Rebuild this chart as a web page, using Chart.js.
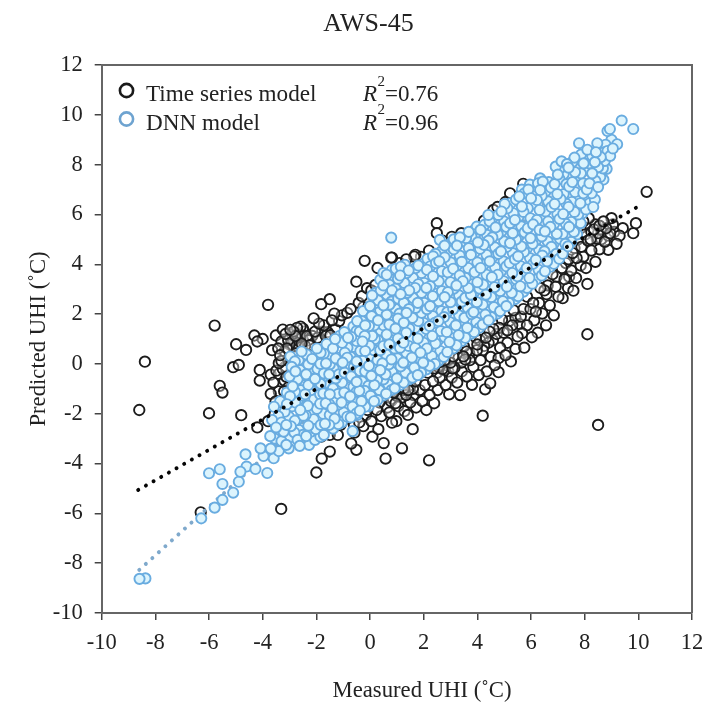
<!DOCTYPE html>
<html><head><meta charset="utf-8">
<style>html,body{margin:0;padding:0;background:#fff}canvas{display:block;filter:blur(0.6px)}</style>
<script src="https://cdn.jsdelivr.net/npm/chart.js@4"></script>
</head><body><div style="width:723px;height:703px"><canvas id="c" width="723" height="703"></canvas></div>
<script>
const chartTitle = "AWS-45";
const xAxisLabel = "Measured UHI (˚C)";
const yAxisLabel = "Predicted UHI (˚C)";
const seriesNames = ["Time series model", "DNN model"];
const r2Labels = ["0.76", "0.96"];
const timeTrend = [[-8.64,-5.06],[10.03,6.34]];
const dnnTrend = [[-8.6,-8.27],[9.3,9.2]];
const timeOutliers = [[-8.39,0.09],[-8.6,-1.85],[-6,-1.98],[-4.8,-2.06],[-5.6,-0.88],[-5.5,-1.15],[-5.1,-0.13],[-4.89,-0.04],[-5.79,1.54],[-3.8,2.37],[-4.99,0.79],[-4.31,1.14],[-4.0,1.0],[-4.62,0.56],[-4.2,0.9],[-4.11,-0.24],[-4.11,-0.67],[-3.7,-0.43],[-3.49,-0.27],[-3.4,0.03],[-3.19,-0.67],[-3.4,-1.1],[-3.52,-1.51],[-4.2,-2.55],[-6.31,-5.96],[-3.31,-5.82],[8.5,-2.45],[8.1,1.19],[10.31,6.91],[4.2,-2.08],[2.2,-3.87],[-2,-4.36],[-1.8,-3.8],[-1.5,-3.52],[0.58,-3.8],[1.19,-3.39],[-0.51,-3.45],[0.51,-3.18]];
const timeUpper = [[-3.51,1.14],[-2.97,1.37],[-2.59,1.5],[-2.1,1.83],[-1.82,2.4],[-1.5,2.6],[-0.51,3.3],[-0.2,4.14],[-0.11,3.04],[0.2,3.17],[0.79,4.27],[1.65,4.31],[1.9,4.3],[2.49,5.65],[2.49,5.25],[1.69,4.38],[0.82,4.27],[5.22,6.85],[4.6,6.18],[5.71,7.23],[-3.3,0.9],[-3.15,1.2],[-3.25,1.38],[-2.85,0.95],[-2.9,1.18],[-2.72,1.45],[-2.62,1.15],[-2.45,1.3],[-2.55,0.82],[-2.3,0.95],[-2.15,1.12],[-1.95,1.05],[-1.78,1.3],[-1.72,1.55],[-1.58,1.28],[-1.42,1.75],[-1.3,1.4],[-1.15,1.72],[-1.05,1.95],[-1.33,2.02],[-0.85,2.05],[-0.72,2.2],[-0.42,2.45],[-0.3,2.72],[-0.25,2.28],[0.05,2.95],[0.28,3.85],[0.5,3.4],[-3.65,0.55],[-3.35,0.35],[-3.1,0.62],[-2.78,0.42],[-2.95,-0.35],[-3.25,-0.2],[-3.05,-0.95],[-3.3,-1.85],[-3.15,-1.4],[-3.55,-2.0],[-3.8,-2.3],[-3.7,-1.2],[-3.6,-0.75],[1.1,4.05],[1.35,4.2],[2.2,4.55],[2.7,4.95],[3.05,5.1],[3.4,5.25],[3.75,5.3],[4.25,5.75],[4.75,6.3],[5.05,6.5]];
const timeClumps = [[-3.05,0.95],[-3.0,0.78],[-2.88,0.7],[-2.75,0.85],[-2.68,0.68],[-2.6,1.02],[-2.52,0.6],[-2.42,0.72],[-2.35,1.12],[-2.25,0.75],[-3.18,0.5],[-3.42,0.62],[-3.3,0.12],[-3.15,-0.1],[-3.05,0.2],[-2.85,1.3],[-2.78,1.12],[-2.5,1.42],[-2.05,1.3],[-1.88,0.95],[-1.65,1.12],[-1.48,1.15],[-1.9,1.62],[-3.2,-1.1],[-3.28,-1.55],[-3.12,-0.52],[-3.4,-0.4],[1.05,-1.1],[1.12,-1.0],[1.18,-1.2],[1.28,-0.98],[1.35,-1.25],[1.02,-1.3],[0.88,-1.15],[0.78,-1.5],[0.95,-1.58],[1.42,-1.05],[1.5,-0.85],[1.6,-1.0],[2.45,0.05],[2.55,-0.12],[2.62,0.08],[2.7,-0.2],[2.78,0.15],[2.85,-0.05],[2.92,-0.3],[3.0,0.05],[3.08,-0.18],[2.5,-0.35],[2.38,-0.18],[3.3,0.25],[3.4,0.05],[3.48,0.3],[3.6,0.5],[3.72,0.15],[4.0,0.78],[4.1,0.95],[4.2,0.55],[4.32,1.05],[4.42,0.85],[4.6,1.4],[4.72,1.2],[4.82,1.45],[5.18,1.72],[5.12,1.35],[5.42,1.85],[5.58,1.6],[5.72,2.2],[6.08,2.45],[6.18,2.1],[6.5,2.95],[6.62,3.15],[6.95,3.5],[7.15,3.85],[7.42,3.5],[7.4,4.2],[7.7,4.25],[7.62,4.65],[7.88,4.7],[8.02,5.2],[8.22,5.0],[8.35,5.4],[8.5,5.25],[8.62,5.0],[8.55,5.55],[8.8,5.45],[8.88,5.15],[9.1,5.3]];
const timeLower = [[-1.82,-2.92],[-1.5,-2.85],[-1.2,-2.85],[-0.7,-3.2],[-0.58,-2.76],[0.09,-2.92],[0.31,-2.62],[1.59,-2.62],[0.82,-2.36],[1.41,-2.05],[2.1,-1.85],[2.39,-1.58],[-1.1,-2.45],[-0.85,-2.2],[-0.4,-2.35],[-0.15,-2.05],[-0.25,-2.5],[0.05,-2.3],[0.25,-1.85],[0.42,-2.1],[0.65,-1.75],[0.72,-1.95],[0.98,-2.3],[1.05,-1.7],[1.18,-1.35],[1.28,-1.9],[1.5,-1.55],[1.62,-1.25],[1.72,-1.75],[1.85,-1.05],[1.95,-1.5],[2.05,-0.85],[2.22,-1.25],[2.35,-0.7],[2.52,-1.05],[2.6,-0.55],[2.75,-0.25],[2.82,-0.85],[2.95,-1.22],[3.05,-0.55],[3.15,-0.15],[3.36,-1.25],[3.25,-0.75],[3.42,-0.3],[3.55,0.18],[3.61,-0.51],[3.7,0.42],[3.8,-0.84],[3.85,-0.12],[3.98,0.55],[4.05,-0.45],[4.12,0.15],[4.29,-1.02],[4.25,0.72],[4.35,-0.3],[4.48,-0.78],[4.5,0.28],[4.58,0.95],[4.65,-0.05],[4.79,0.23],[4.79,-0.33],[4.85,0.65],[4.98,1.25],[5.05,0.35],[5.12,0.85],[5.25,0.1],[5.3,1.55],[5.42,0.6],[5.5,1.1],[5.67,1.23],[5.62,1.9],[5.75,0.65],[5.85,1.55],[6.03,1.07],[5.98,2.2],[6.12,1.75],[6.25,1.25],[6.3,2.45],[6.42,2.02],[6.56,1.55],[6.58,2.8],[6.7,2.35],[6.85,1.95],[6.92,3.1],[7.02,2.7],[7.18,2.64],[7.25,3.4],[7.38,3.05],[7.58,2.94],[7.5,3.75],[7.68,3.45],[7.85,3.95],[8.1,3.21],[7.95,4.3],[8.05,3.85],[8.25,4.55],[8.12,4.95],[8.4,4.1],[8.45,5.02],[8.55,4.6],[8.65,5.3],[8.75,4.9],[8.88,4.58],[8.95,5.25],[9.19,4.82],[9.05,5.6],[9,5.85],[8.4,5.6],[7.95,5.72],[8.25,5.3],[7.75,5.0],[7.85,5.45],[9.42,5.45],[9.81,5.25],[9.91,5.65],[9.3,5.15],[8.7,5.72],[8.15,5.85],[7.55,4.45],[7.3,4.05],[6.8,3.6],[6.35,3.05],[5.85,2.7],[5.35,2.15],[4.92,1.78],[4.45,1.3],[3.95,1.05],[3.5,0.7],[3.1,0.3],[2.6,-0.05],[2.15,-0.35],[1.7,-0.7],[1.25,-1.05],[0.85,-1.4],[0.35,-1.55],[-0.1,-1.85],[-0.6,-2.45],[-1.35,-2.55]];
const dnnEdge = [[9.38,9.77],[9.81,9.43],[8.94,9.43],[8.85,9.35],[7.79,8.86],[8.1,8.6],[8.47,8.86],[9.21,8.82],[9.0,9.0],[8.82,7.83],[7.14,8.13],[6.34,7.45],[5.96,7.2],[4.41,5.98],[3.98,5.51],[0.79,5.07],[8.32,6.3],[7.95,6.85],[-8.59,-8.63],[-8.37,-8.61],[-6.29,-6.2],[-5.79,-5.77],[-5.5,-5.46],[-5.1,-5.17],[-5.5,-4.82],[-6,-4.39],[-5.6,-4.23],[-4.89,-4.73],[-4.83,-4.33],[-4.6,-4.12],[-4.27,-4.22],[-4.64,-3.63],[-3.83,-4.38],[-4.08,-3.39],[-3.7,-3.4],[-3.97,-3.7],[-3.59,-3.79],[-3.4,-3.5],[-3.03,-3.39],[-2.62,-3.29],[-2.27,-3.25],[-0.65,-2.7],[-0.48,-2.05]];
const dnnLeft = [[-3.55,-3.0],[-3.5,-2.55],[-3.42,-2.1],[-3.58,-1.72],[-3.3,-3.1],[-3.22,-2.72],[-3.3,-2.35],[-3.18,-1.92],[-3.35,-1.5],[-3.1,-1.15],[-3.0,-2.95],[-2.95,-2.5],[-3.02,-2.12],[-2.9,-1.7],[-2.98,-1.3],[-2.88,-0.9],[-3.0,-0.5],[-2.92,-0.12],[-2.97,0.3],[-2.7,-3.05],[-2.65,-2.65],[-2.72,-2.25],[-2.6,-1.85],[-2.68,-1.45],[-2.58,-1.05],[-2.7,-0.62],[-2.6,-0.25],[-2.66,0.15],[-2.55,0.5],[-2.38,-2.9],[-2.3,-2.48],[-2.4,-2.05],[-2.32,-1.68],[-2.42,-1.22],[-2.3,-0.85],[-2.38,-0.42],[-2.3,-0.02],[-2.36,0.38],[-2.05,-3.05],[-2.02,-2.62],[-2.1,-2.22],[-1.98,-1.8],[-2.08,-1.42],[-1.95,-1.02],[-2.05,-0.6],[-1.96,-0.2],[-2.04,0.22],[-1.98,0.62],[-1.72,-2.85],[-1.68,-2.4],[-1.75,-2.0],[-1.65,-1.58],[-1.74,-1.18],[-1.62,-0.78],[-1.72,-0.38],[-1.64,0.02],[-1.72,0.42],[-1.62,0.8]];
const dnnMidA = [[-1.38,-2.6],[-1.32,-2.2],[-1.4,-1.78],[-1.3,-1.4],[-1.38,-0.98],[-1.28,-0.58],[-1.36,-0.18],[-1.28,0.22],[-1.38,0.62],[-1.3,1.0],[-1.05,-2.35],[-0.98,-1.95],[-1.06,-1.55],[-0.96,-1.15],[-1.04,-0.75],[-0.95,-0.35],[-1.02,0.05],[-0.94,0.45],[-1.04,0.85],[-0.96,1.28],[-0.72,-2.15],[-0.65,-1.72],[-0.74,-1.3],[-0.62,-0.92],[-0.7,-0.5],[-0.6,-0.12],[-0.72,0.28],[-0.62,0.68],[-0.7,1.08],[-0.62,1.5],[-0.38,-1.88],[-0.32,-1.5],[-0.4,-1.08],[-0.3,-0.7],[-0.38,-0.28],[-0.28,0.12],[-0.36,0.52],[-0.28,0.9],[-0.38,1.3],[-0.3,1.72],[-0.26,2.12],[-0.05,-1.7],[0.02,-1.28],[-0.06,-0.88],[0.05,-0.48],[-0.04,-0.08],[0.06,0.32],[-0.02,0.72],[0.08,1.12],[-0.04,1.52],[0.06,1.92],[0,2.32],[0.08,2.75],[0.28,-1.45],[0.35,-1.05],[0.26,-0.65],[0.38,-0.25],[0.28,0.15],[0.38,0.55],[0.3,0.95],[0.4,1.35],[0.3,1.75],[0.38,2.15],[0.3,2.55],[0.4,2.95],[0.38,3.38],[0.6,-1.2],[0.68,-0.82],[0.58,-0.42],[0.7,-0.02],[0.6,0.38],[0.72,0.78],[0.62,1.18],[0.72,1.58],[0.62,1.98],[0.72,2.38],[0.62,2.78],[0.72,3.18],[0.62,3.58],[0.92,-0.98],[1.0,-0.58],[0.92,-0.18],[1.02,0.22],[0.92,0.62],[1.04,1.02],[0.95,1.42],[1.04,1.82],[0.94,2.22],[1.05,2.62],[0.95,3.02],[1.04,3.42],[0.96,3.82]];
const dnnMidB = [[1.25,-0.75],[1.32,-0.35],[1.24,0.05],[1.35,0.45],[1.25,0.85],[1.35,1.25],[1.26,1.65],[1.36,2.05],[1.26,2.45],[1.38,2.85],[1.28,3.25],[1.36,3.65],[1.3,3.98],[1.58,-0.55],[1.65,-0.15],[1.56,0.25],[1.68,0.65],[1.58,1.05],[1.68,1.45],[1.58,1.85],[1.7,2.25],[1.6,2.65],[1.68,3.05],[1.6,3.45],[1.7,3.85],[1.9,-0.35],[1.98,0.05],[1.88,0.45],[2.0,0.85],[1.9,1.25],[2.0,1.65],[1.92,2.05],[2.02,2.45],[1.92,2.85],[2.02,3.25],[1.92,3.65],[2.02,4.05],[2.22,-0.08],[2.3,0.32],[2.2,0.72],[2.32,1.12],[2.22,1.52],[2.34,1.92],[2.24,2.32],[2.34,2.72],[2.24,3.12],[2.35,3.52],[2.25,3.92],[2.35,4.32],[2.55,0.12],[2.62,0.52],[2.52,0.92],[2.64,1.32],[2.55,1.72],[2.66,2.12],[2.56,2.52],[2.68,2.92],[2.56,3.32],[2.68,3.72],[2.58,4.12],[2.66,4.52],[2.6,4.98],[2.88,0.48],[2.96,0.88],[2.86,1.28],[2.98,1.68],[2.88,2.08],[3.0,2.48],[2.9,2.88],[3.0,3.28],[2.9,3.68],[3.0,4.08],[2.9,4.48],[3.02,4.85],[3.22,0.75],[3.3,1.15],[3.2,1.55],[3.32,1.95],[3.22,2.35],[3.32,2.75],[3.22,3.15],[3.34,3.55],[3.24,3.95],[3.34,4.35],[3.24,4.75],[3.35,5.08],[3.55,1.05],[3.62,1.45],[3.52,1.85],[3.64,2.25],[3.55,2.65],[3.66,3.05],[3.56,3.45],[3.66,3.85],[3.56,4.25],[3.68,4.65],[3.58,5.05],[3.68,5.3],[3.88,1.28],[3.96,1.68],[3.86,2.08],[3.98,2.48],[3.88,2.88],[4.0,3.28],[3.9,3.68],[4.0,4.08],[3.9,4.48],[4.02,4.88],[3.92,5.2]];
const dnnMidC = [[4.2,1.58],[4.3,1.98],[4.2,2.38],[4.32,2.78],[4.22,3.18],[4.34,3.58],[4.24,3.98],[4.34,4.38],[4.24,4.78],[4.36,5.18],[4.26,5.58],[4.52,1.88],[4.62,2.28],[4.52,2.68],[4.64,3.08],[4.54,3.48],[4.66,3.88],[4.56,4.28],[4.66,4.68],[4.56,5.08],[4.68,5.48],[4.58,5.88],[4.85,2.12],[4.95,2.52],[4.85,2.92],[4.98,3.32],[4.88,3.72],[4.98,4.12],[4.88,4.52],[5.0,4.92],[4.9,5.32],[5.0,5.72],[4.9,6.12],[5.02,6.42],[5.18,2.45],[5.28,2.85],[5.18,3.25],[5.3,3.65],[5.2,4.05],[5.32,4.45],[5.22,4.85],[5.32,5.25],[5.22,5.65],[5.34,6.05],[5.24,6.45],[5.52,2.72],[5.6,3.12],[5.5,3.52],[5.62,3.92],[5.52,4.32],[5.64,4.72],[5.54,5.12],[5.64,5.52],[5.54,5.92],[5.66,6.32],[5.56,6.72],[5.66,7.0],[5.85,3.05],[5.94,3.45],[5.84,3.85],[5.96,4.25],[5.86,4.65],[5.98,5.05],[5.88,5.45],[5.98,5.85],[5.88,6.25],[6.0,6.65],[5.9,7.0],[6.18,3.38],[6.28,3.78],[6.18,4.18],[6.3,4.58],[6.2,4.98],[6.32,5.38],[6.22,5.78],[6.32,6.18],[6.22,6.58],[6.34,6.98],[6.26,7.25],[6.52,3.72],[6.6,4.12],[6.5,4.52],[6.62,4.92],[6.52,5.32],[6.64,5.72],[6.54,6.12],[6.64,6.52],[6.54,6.92],[6.66,7.3],[6.85,4.02],[6.94,4.42],[6.84,4.82],[6.96,5.22],[6.86,5.62],[6.98,6.02],[6.88,6.42],[6.98,6.82],[6.88,7.22],[7.0,7.6],[6.92,7.92],[7.18,4.42],[7.28,4.82],[7.18,5.22],[7.3,5.62],[7.2,6.02],[7.32,6.42],[7.22,6.82],[7.32,7.22],[7.22,7.62],[7.34,8.02],[7.5,4.9],[7.6,5.3],[7.5,5.7],[7.62,6.1],[7.52,6.5],[7.64,6.9],[7.54,7.3],[7.64,7.7],[7.54,8.1],[7.62,8.28],[7.85,5.65],[7.92,6.05],[7.84,6.45],[7.94,7.25],[7.86,7.65],[7.96,8.05],[7.86,8.4],[8.18,6.45],[8.26,6.85],[8.18,7.25],[8.28,7.65],[8.18,8.05],[8.28,8.35],[8.5,7.1],[8.58,7.5],[8.5,7.9],[8.6,8.3],[8.52,8.65],[8.75,8.15],[8.85,8.55],[8.78,8.8]];
const dnnFillA = [[-3.72,-2.9],[-3.65,-2.25],[-3.45,-2.85],[-3.12,-3.25],[-3.12,-2.45],[-3.1,-1.62],[-2.82,-2.75],[-2.8,-2.28],[-2.78,-1.55],[-2.8,-1.12],[-2.78,-0.72],[-2.78,-0.3],[-2.8,0.1],[-2.5,-2.85],[-2.48,-2.08],[-2.5,-1.28],[-2.47,-0.45],[-2.45,0.28],[-2.2,-2.72],[-2.2,-2.25],[-2.18,-1.88],[-2.2,-1.05],[-2.18,-0.65],[-2.18,-0.2],[-2.16,0.2],[-1.85,-2.92],[-1.84,-2.45],[-1.86,-1.6],[-1.86,-1.22],[-1.84,-0.8],[-1.85,0.0],[-1.84,0.45],[-1.52,-2.45],[-1.5,-2.05],[-1.52,-1.62],[-1.5,-1.22],[-1.5,-0.82],[-1.52,-0.42],[-1.5,-0.02],[-1.5,0.38],[-1.48,0.72],[-1.18,-2.42],[-1.16,-1.62],[-1.18,-1.2],[-1.16,-0.42],[-1.15,0.25],[-1.18,0.88],[-1.14,1.12],[-0.85,-2.12],[-0.86,-1.35],[-0.84,-0.55],[-0.85,0.25],[-0.84,0.65],[-0.82,1.05],[-0.5,-1.98],[-0.52,-1.52],[-0.5,-1.12],[-0.5,-0.72],[-0.52,-0.3],[-0.5,0.1],[-0.5,0.92],[-0.5,1.32],[-0.48,1.72],[-0.18,-1.72],[-0.2,-1.08],[-0.18,-0.3],[-0.18,0.52],[-0.2,1.12],[-0.18,1.55],[-0.16,1.95],[0.15,-1.5],[0.16,-0.85],[0.18,-0.1],[0.15,0.55],[0.18,1.0],[0.16,1.55],[0.18,2.0],[0.2,2.45],[0.2,2.85],[0.48,-1.28],[0.5,-0.62],[0.46,0.02],[0.5,0.72],[0.48,1.12],[0.5,1.55],[0.5,2.35],[0.52,2.78],[0.5,3.15],[0.5,3.65],[0.8,-1.05],[0.82,-0.32],[0.8,0.18],[0.82,0.95],[0.82,1.75],[0.8,2.5],[0.82,2.95],[0.8,3.4],[0.82,3.78]];
const dnnFillB = [[1.12,-0.85],[1.14,-0.1],[1.12,0.65],[1.14,1.25],[1.1,2.02],[1.14,2.8],[1.12,3.55],[1.15,3.9],[1.45,-0.62],[1.46,0.1],[1.44,0.72],[1.46,1.42],[1.45,2.2],[1.46,2.95],[1.44,3.75],[1.78,-0.45],[1.8,0.25],[1.78,1.02],[1.8,1.72],[1.78,2.45],[1.8,3.2],[1.8,3.95],[2.1,-0.22],[2.12,0.62],[2.1,1.4],[2.12,2.2],[2.1,3.05],[2.12,3.78],[2.14,4.22],[2.42,0.0],[2.44,0.82],[2.42,1.65],[2.46,2.5],[2.42,3.22],[2.46,4.05],[2.44,4.42],[2.75,0.28],[2.78,1.08],[2.76,1.88],[2.78,2.68],[2.75,3.5],[2.78,4.28],[2.78,4.75],[3.1,0.62],[3.12,1.42],[3.1,2.2],[3.12,3.02],[3.1,3.82],[3.12,4.6],[3.12,5.0],[3.42,0.92],[3.46,1.72],[3.42,2.5],[3.46,3.32],[3.42,4.1],[3.46,4.92],[3.75,1.2],[3.78,2.0],[3.76,2.78],[3.78,3.6],[3.76,4.38],[3.78,5.12],[4.08,1.45],[4.12,2.25],[4.08,3.02],[4.12,3.85],[4.1,4.62],[4.12,5.38],[4.42,1.75],[4.44,2.55],[4.42,3.35],[4.46,4.12],[4.42,4.95],[4.46,5.72],[4.75,2.02],[4.78,2.82],[4.76,3.58],[4.78,4.42],[4.76,5.2],[4.78,5.98],[5.08,2.32],[5.1,3.1],[5.08,3.92],[5.1,4.7],[5.08,5.5],[5.12,6.25],[5.4,2.6],[5.44,3.4],[5.4,4.2],[5.44,5.0],[5.4,5.78],[5.44,6.6],[5.72,2.9],[5.76,3.7],[5.74,4.5],[5.76,5.28],[5.72,6.1],[5.76,6.85],[6.05,3.22],[6.08,4.02],[6.06,4.82],[6.08,5.6],[6.06,6.42],[6.1,7.12],[6.4,3.55],[6.42,4.35],[6.4,5.12],[6.42,5.95],[6.4,6.75],[6.44,7.32],[6.72,3.9],[6.76,4.7],[6.72,5.5],[6.76,6.3],[6.74,7.08],[7.05,4.22],[7.08,5.02],[7.06,5.82],[7.1,6.62],[7.06,7.42],[7.08,7.85],[7.38,4.72],[7.42,5.5],[7.4,6.3],[7.42,7.12],[7.4,7.88],[7.72,5.2],[7.76,6.0],[7.72,6.72],[7.76,7.48],[7.74,8.22],[8.05,6.2],[8.08,7.0],[8.06,7.78],[8.08,8.4],[8.38,6.6],[8.4,7.35],[8.38,8.1],[8.42,8.5],[8.7,7.4],[8.68,7.85],[8.72,8.5],[8.95,8.35],[9.05,8.65]];
const legendKeyColors = ["#1a1a1a", "#6ea3d0"];
const toPoints = list => list.map(p => ({x: p[0], y: p[1]}));
// Reorders the typed points so that overlaps do not stack in column order; values are unchanged.
const drawRank = p => { const v = Math.abs(p[0] * 731.3 + p[1] * 419.7); return v - Math.floor(v); };
const byRank = (a, b) => drawRank(a) - drawRank(b);
const timeAll = [...timeOutliers, ...timeUpper, ...timeClumps, ...timeLower].sort(byRank);
const dnnAll = [...dnnEdge, ...dnnLeft, ...dnnMidA, ...dnnMidB, ...dnnMidC, ...dnnFillA, ...dnnFillB].sort(byRank);
const serif = '"Liberation Serif","Times New Roman",serif';
const ink = "#222";

const overlayText = {
  id: "overlayText",
  afterDraw(chart) {
    const c = chart.ctx;
    c.save();
    c.fillStyle = ink;
    c.textBaseline = "alphabetic";
    c.textAlign = "center";
    c.font = "26px " + serif;
    c.fillText(chartTitle, 368.5, 31);
    c.font = "22.7px " + serif;
    c.fillText(xAxisLabel, 422, 697);
    c.textAlign = "left";
    const rows = [101, 129.5];
    rows.forEach((y, i) => {
      c.beginPath();
      c.arc(126.5, y - 10.5, 6.6, 0, Math.PI * 2);
      c.lineWidth = 2.6;
      c.strokeStyle = legendKeyColors[i];
      c.stroke();
      c.fillStyle = ink;
      c.font = "23.2px " + serif;
      c.fillText(seriesNames[i], 146, y);
      c.font = "italic 23px " + serif;
      c.fillText("R", 363, y);
      c.font = "15px " + serif;
      c.fillText("2", 377.5, y - 15.5);
      c.font = "23px " + serif;
      c.fillText("=" + r2Labels[i], 385, y);
    });
    c.restore();
  }
};
const frame = {
  id: "frame",
  afterDatasetsDraw(chart) {
    const a = chart.chartArea, c = chart.ctx;
    c.save();
    c.strokeStyle = "#666";
    c.lineWidth = 2;
    c.beginPath();
    c.moveTo(a.left, a.top); c.lineTo(a.right, a.top); c.lineTo(a.right, a.bottom);
    c.stroke();
    c.restore();
  }
};
new Chart(document.getElementById("c"), {
  type: "scatter",
  data: { datasets: [
    { label: "Time series trend", data: toPoints(timeTrend), showLine: true, pointRadius: 0, borderColor: "#050505", borderWidth: 3.9, borderCapStyle: "round", borderDash: [0.1, 8.7], fill: false },
    { label: seriesNames[1], data: toPoints(dnnAll), pointRadius: 5.1, pointBorderWidth: 1.9, pointBorderColor: "#69ace0", pointBackgroundColor: "#dcf4fd", showLine: false },
    { label: "DNN trend", data: toPoints(dnnTrend), showLine: true, pointRadius: 0, borderColor: "#7fa9cc", borderWidth: 3.9, borderCapStyle: "round", borderDash: [0.1, 8.7], fill: false },
    { label: seriesNames[0], data: toPoints(timeAll), pointRadius: 5.2, pointBorderWidth: 1.9, pointBorderColor: "#1c1c1c", pointBackgroundColor: "rgba(255,255,255,0.35)", showLine: false }
  ]},
  options: {
    responsive: false,
    animation: false,
    layout: { padding: { left: 25, right: 31, top: 65, bottom: 0 } },
    plugins: { legend: { display: false }, tooltip: { enabled: false } },
    scales: {
      x: { type: "linear", min: -10, max: 12,
        grid: { display: true, drawOnChartArea: false, drawTicks: true, tickLength: 7, color: "#444", lineWidth: 1.5 },
        border: { display: true, color: "#666", width: 2 },
        ticks: { stepSize: 2, color: ink, font: { family: serif, size: 22.5 }, padding: 10, maxRotation: 0, autoSkip: false },
        afterFit(s) { s.height = 90; } },
      y: { type: "linear", min: -10, max: 12,
        grid: { display: true, drawOnChartArea: false, drawTicks: true, tickLength: 7, color: "#444", lineWidth: 1.5 },
        border: { display: true, color: "#666", width: 2 },
        ticks: { stepSize: 2, color: ink, font: { family: serif, size: 22.5 }, padding: 12, autoSkip: false },
        title: { display: true, text: yAxisLabel, color: ink, font: { family: serif, size: 22.7 }, padding: { top: 0, bottom: 4 } },
        afterFit(s) { s.width = 76.7; } }
    }
  },
  plugins: [frame, overlayText]
});
</script></body></html>
